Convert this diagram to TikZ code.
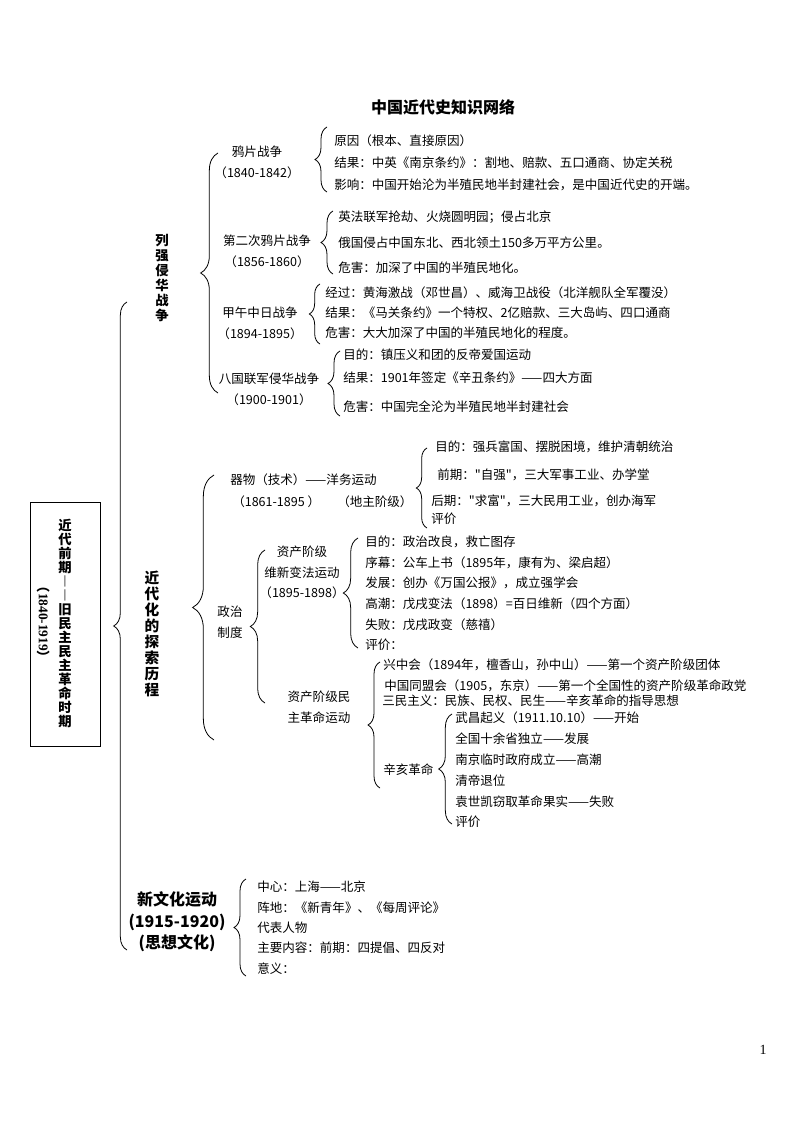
\documentclass[tikz,border=0pt]{standalone}
\usepackage{fontspec}
\setmainfont{Noto Sans CJK SC}
\newfontfamily\tnrfont{Liberation Serif}
\newfontfamily\qtfont{Noto Sans CJK SC}
\usetikzlibrary{positioning,decorations.pathreplacing}
\newcommand\sqt{{\qtfont"}}
\tikzset{
  kitem/.style={anchor=west, inner sep=0pt, font=\fontsize{9.4}{11}\selectfont},
  khead/.style={inner sep=0pt, align=center, font=\fontsize{9.4}{15.6}\selectfont},
  kvert/.style={inner sep=0pt, align=center, font=\fontsize{10}{11.25}\selectfont\bfseries},
  ktitle/.style={inner sep=0pt, font=\fontsize{12}{14}\selectfont\bfseries},
  kbig/.style={inner sep=0pt, align=center, font=\fontsize{12}{16}\selectfont\bfseries},
  kframe/.style={draw, line width=0.6pt, inner sep=0pt},
  kbrace/.style={decorate, decoration={brace, amplitude=#1}, line width=0.6pt},
  kbrace/.default=9pt
}
\begin{document}
\begin{tikzpicture}[x=0.75pt, y=-0.75pt]
  \useasboundingbox (0,0) rectangle (794,1123);
  \node[ktitle] (title) at (443,107) {中国近代史知识网络};

  \node[kframe, minimum width=52.5pt, minimum height=183pt] (period) at (65,624) {};
  \node[kvert, font=\fontsize{10}{10.5}\selectfont\bfseries] (periodname) at (65,623)
    {近\\代\\前\\期\\︱\\︱\\旧\\民\\主\\民\\主\\革\\命\\时\\期};
  \node[inner sep=0pt, rotate=-90, font=\fontsize{10}{12}\selectfont\bfseries] (periodyear) at (44,622)
    {（{\tnrfont 1840-1919}）};
  \draw[kbrace=10pt] (127,950) -- (127,302);

  \node[kvert] (invasion) at (162,278) {列\\强\\侵\\华\\战\\争};
  \draw[kbrace=13pt] (218,393) -- (218,153);

  \node[khead] (opium) at (257,162.5) {鸦片战争\\（1840-1842）};
  \draw[kbrace] (327,192) -- (327,127);
  \foreach \t [count=\i] in {{原因（根本、直接原因）},
      {结果：中英《南京条约》：割地、赔款、五口通商、协定关税},
      {影响：中国开始沦为半殖民地半封建社会，是中国近代史的开端。}}
    \node[kitem] (opium\i) at (334,{141+22*(\i-1)}) {\t};

  \node[khead] (opiumtwo) at (267,251) {第二次鸦片战争\\（1856-1860）};
  \draw[kbrace] (333,274) -- (333,211);
  \foreach \t [count=\i] in {{英法联军抢劫、火烧圆明园；侵占北京},
      {俄国侵占中国东北、西北领土150多万平方公里。},
      {危害：加深了中国的半殖民地化。}}
    \node[kitem] (opiumtwo\i) at (338,{217+25.5*(\i-1)}) {\t};

  \node[khead] (jiawu) at (260,323.5) {甲午中日战争\\（1894-1895）};
  \draw[kbrace=8pt] (320,344) -- (320,284);
  \foreach \t [count=\i] in {{经过：黄海激战（邓世昌）、威海卫战役（北洋舰队全军覆没）},
      {结果：《马关条约》一个特权、2亿赔款、三大岛屿、四口通商},
      {危害：大大加深了中国的半殖民地化的程度。}}
    \node[kitem] (jiawu\i) at (325,{293+20*(\i-1)}) {\t};

  \node[khead] (eight) at (269,389) {八国联军侵华战争\\（1900-1901）};
  \draw[kbrace] (340,416) -- (340,351);
  \node[kitem] (eight1) at (343,355) {目的：镇压义和团的反帝爱国运动};
  \node[kitem] (eight2) at (343,378) {结果：1901年签定《辛丑条约》——四大方面};
  \node[kitem] (eight3) at (343,407) {危害：中国完全沦为半殖民地半封建社会};

  \node[kvert, font=\fontsize{11}{12}\selectfont\bfseries] (explore) at (152,634)
    {近\\代\\化\\的\\探\\索\\历\\程};
  \draw[kbrace=16pt] (214,740) -- (214,475);

  \node[kitem] (yangwu) at (230,480) {器物（技术）——洋务运动};
  \node[kitem] (yangwuyear) at (232,502) {（1861-1895 ）};
  \node[kitem] (yangwuclass) at (337,502) {（地主阶级）};
  \draw[kbrace=8pt] (427,528) -- (427,448);
  \node[kitem] (yangwu1) at (435,447) {目的：强兵富国、摆脱困境，维护清朝统治};
  \node[kitem] (yangwu2) at (437,475) {前期：\sqt 自强\sqt ，三大军事工业、办学堂};
  \node[kitem] (yangwu3) at (431,501) {后期：\sqt 求富\sqt ，三大民用工业，创办海军};
  \node[kitem] (yangwu4) at (431,519) {评价};

  \node[khead] (politics) at (230,622.5) {政治\\制度};
  \draw[kbrace=11pt] (265,703) -- (265,550);

  \node[khead] (reform) at (302,572.5) {资产阶级\\维新变法运动\\（1895-1898）};
  \draw[kbrace=11pt] (358,648) -- (358,538);
  \foreach \t [count=\i] in {{目的：政治改良，救亡图存},
      {序幕：公车上书（1895年，康有为、梁启超）},
      {发展：创办《万国公报》，成立强学会},
      {高潮：戊戌变法（1898）=百日维新（四个方面）},
      {失败：戊戌政变（慈禧）},
      {评价：}}
    \node[kitem] (reform\i) at (365,{542+20.6*(\i-1)}) {\t};

  \node[khead] (revolution) at (319,707.5) {资产阶级民\\主革命运动};
  \draw[kbrace] (380,788) -- (380,662);
  \node[kitem] (revolution1) at (383,665) {兴中会（1894年，檀香山，孙中山）——第一个资产阶级团体};
  \node[kitem] (revolution2) at (384,686) {中国同盟会（1905，东京）——第一个全国性的资产阶级革命政党};
  \node[kitem] (revolution3) at (382,701) {三民主义：民族、民权、民生——辛亥革命的指导思想};
  \node[kitem] (xinhai) at (383,770) {辛亥革命};
  \draw[kbrace=10pt] (452,824) -- (452,714);
  \foreach \t [count=\i] in {{武昌起义（1911.10.10）——开始},
      {全国十余省独立——发展},
      {南京临时政府成立——高潮},
      {清帝退位},
      {袁世凯窃取革命果实——失败},
      {评价}}
    \node[kitem] (xinhai\i) at (455,{718+20.8*(\i-1)}) {\t};

  \node[kbig] (culture) at (177,922) {新文化运动\\(1915-1920)\\(思想文化)};
  \draw[kbrace] (246,976) -- (246,879);
  \foreach \t [count=\i] in {{中心：上海——北京},
      {阵地：《新青年》、《每周评论》},
      {代表人物},
      {主要内容：前期：四提倡、四反对},
      {意义：}}
    \node[kitem] (culture\i) at (257,{887+20.3*(\i-1)}) {\t};

  \node[inner sep=0pt, font=\tnrfont\fontsize{10.5}{12}\selectfont] (pageno) at (763,1050) {1};
\end{tikzpicture}
\end{document}
